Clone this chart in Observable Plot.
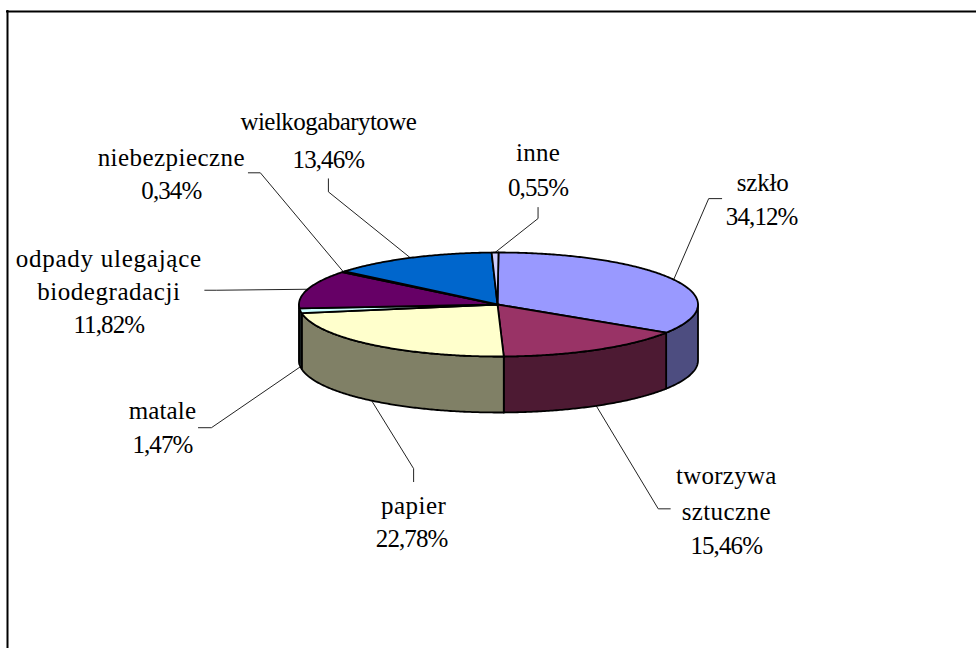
<!DOCTYPE html>
<html lang="pl">
<head>
<meta charset="utf-8">
<script src="https://cdn.jsdelivr.net/npm/d3@7"></script>
<script src="https://cdn.jsdelivr.net/npm/@observablehq/plot@0.6"></script>
<style>
html,body{margin:0;padding:0;background:#fff;overflow:hidden}
svg{display:block}
</style>
</head>
<body>
<div id="chart"></div>
<script>
// Data, clockwise from 12 o'clock
const categories = ["szkło","tworzywa sztuczne","papier","matale","odpady ulegające biodegradacji","niebezpieczne","wielkogabarytowe","inne"];
const shares = [34.12,15.46,22.78,1.47,11.82,0.34,13.46,0.55];
const shareLabels = ["34,12%","15,46%","22,78%","1,47%","11,82%","0,34%","13,46%","0,55%"];
const labelLines = [["szkło"],["tworzywa","sztuczne"],["papier"],["matale"],["odpady ulegające","biodegradacji"],["niebezpieczne"],["wielkogabarytowe"],["inne"]];

// Styles
const topColors  = ["#9999FF","#993366","#FFFFCC","#CCFFFF","#660066","#FF8080","#0066CC","#CCCCFF"];
const sideColors = ["#4D4D80","#4D1A33","#808066","#668080","#330033","#804040","#003366","#666680"];
// Letter spacing (px) of the label lines, as set in the picture
const nameSpacing = [[-0.2],[0.25,0.4],[0.5],[0.15],[0.75,0.55],[0.45],[-0.55],[0.25]];
const shareSpacing = -0.9;

// Layout of the tilted disc
const cx = 498, apexX = 497, cy = 304, rx = 199.5, ry = 52, depth = 56;
// Leader and label offsets from each slice's rim point: [elbow, end, [text line offsets]]
const leaderOffsets = [
  [[35,-81],[48,-81],[[89,-89],[88,-55]]],
  [[62,103],[74,103],[[130,78],[130,114],[130,148]]],
  [[42,68],[42,81],[[42,113],[40,146]]],
  [[-89,61],[-102,61],[[-138,52],[-138,86]]],
  [[-91,1],[-103,1],[[-199,-22],[-199,11],[-199,44]]],
  [[-83,-99],[-95,-99],[[-172,-106],[-172,-73]]],
  [[-82,-66],[-82,-79],[[-82,-128],[-82,-90]]],
  [[43,-34],[43,-45],[[43,-92],[43,-57]]]
];

const pie = d3.pie().sort(null).value(d => d)(shares);
const rimPoint = (a, drop = 0) => ({x: cx + rx * Math.sin(a), y: cy - ry * Math.cos(a) + drop});
const arcAngles = (a0, a1) => {
  const n = Math.max(2, Math.ceil((a1 - a0) / 0.01));
  return d3.range(n + 1).map(i => a0 + (a1 - a0) * i / n);
};

const tops = [], sides = [], leaders = [], texts = [];
pie.forEach((s, i) => {
  // upper face
  const rim = arcAngles(s.startAngle, s.endAngle).map(a => rimPoint(a));
  [{x: apexX, y: cy}, ...rim, {x: apexX, y: cy}].forEach(p => tops.push({...p, key: i, fill: topColors[i]}));
  // wall, only where the disc faces the viewer
  const a0 = Math.max(s.startAngle, Math.PI / 2), a1 = Math.min(s.endAngle, 3 * Math.PI / 2);
  if (a1 > a0) {
    const as = arcAngles(a0, a1);
    const wall = [...as.map(a => rimPoint(a)), ...as.slice().reverse().map(a => rimPoint(a, depth))];
    [...wall, wall[0]].forEach(p => sides.push({...p, key: i, fill: sideColors[i]}));
  }
  // leader and label, anchored at the slice's mid-angle
  const mid = (s.startAngle + s.endAngle) / 2;
  const front = Math.cos(mid) < 0;
  const start = rimPoint(mid, front ? depth : 0);
  const [elbow, end, lines] = leaderOffsets[i];
  [[0,0], elbow, end].forEach(o => leaders.push({x: start.x + o[0], y: start.y + o[1], key: i}));
  [...labelLines[i], shareLabels[i]].forEach((t, j) =>
    texts.push({x: start.x + lines[j][0], y: start.y + lines[j][1], text: t,
                spacing: j < labelLines[i].length ? nameSpacing[i][j] : shareSpacing}));
});

const chart = Plot.plot({
  width: 976, height: 648,
  marginTop: 0, marginRight: 0, marginBottom: 0, marginLeft: 0,
  style: {background: "#fff"},
  x: {domain: [0, 976], range: [0, 976], axis: null},
  y: {domain: [0, 648], range: [0, 648], axis: null},
  color: {type: "identity"},
  marks: [
    Plot.ruleY([11], {x1: 6, x2: 976, stroke: "#000", strokeWidth: 2}),
    Plot.ruleX([7], {y1: 10, y2: 648, stroke: "#000", strokeWidth: 2}),
    Plot.line(leaders, {x: "x", y: "y", z: "key", stroke: "#222", strokeWidth: 1, curve: "linear"}),
    Plot.line(sides, {x: "x", y: "y", z: "key", fill: "fill", stroke: "#000", strokeWidth: 1.8, strokeLinejoin: "round"}),
    Plot.line(tops, {x: "x", y: "y", z: "key", fill: "fill", stroke: "#000", strokeWidth: 1.8, strokeLinejoin: "round"}),
    Plot.text(texts, {x: "x", y: "y", text: "text", textAnchor: "middle", lineAnchor: "bottom",
      fontFamily: "'Liberation Serif'", fontSize: 25, fill: "#000"})
  ]
});
const spacingByText = new Map(texts.map(d => [d.text, d.spacing]));
chart.querySelectorAll("text").forEach(t => {
  const sp = spacingByText.get(t.textContent);
  if (sp != null) t.style.letterSpacing = sp + "px";
});
document.getElementById("chart").append(chart);
</script>
</body>
</html>
